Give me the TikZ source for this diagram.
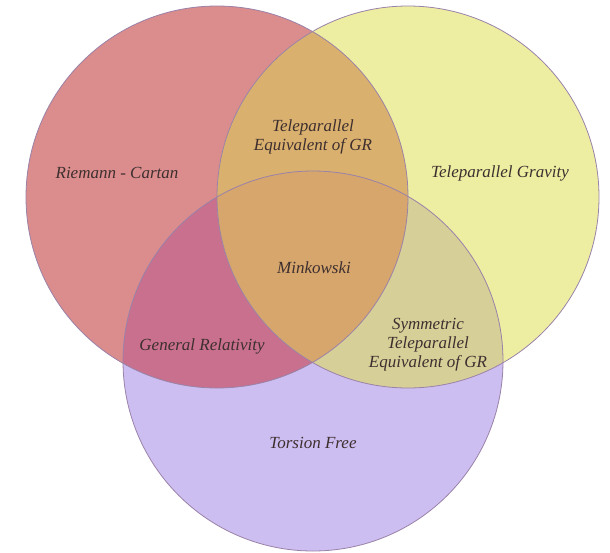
\documentclass[tikz,border=0pt]{standalone}
\usepackage{fontspec}
\setmainfont{Liberation Serif}
\definecolor{cR}{HTML}{DB8C8C}
\definecolor{cY}{HTML}{EEEEA2}
\definecolor{cP}{HTML}{CDBEF2}
\definecolor{cRY}{HTML}{D9B06E}
\definecolor{cRP}{HTML}{C8708E}
\definecolor{cYP}{HTML}{D7CF98}
\definecolor{cRYP}{HTML}{D6A66C}
\definecolor{edge}{HTML}{9A82A8}
\definecolor{txt}{HTML}{3E2F2F}
\tikzset{
  lbl/.style={font=\fontsize{17}{19}\selectfont\itshape, text=txt, align=center, inner sep=0pt},
  rim/.style={draw=edge, line width=0.8pt}
}
\begin{document}
\begin{tikzpicture}[x=1pt,y=-1pt]
\useasboundingbox (0,0) rectangle (610,552);
\def\red{(217,197) circle[radius=191]}
\def\yel{(408,197) circle[radius=191]}
\def\pur{(313,361) circle[radius=190]}
\fill[cR] \red;
\fill[cY] \yel;
\fill[cP] \pur;
\begin{scope}\clip \red; \fill[cRY] \yel; \end{scope}
\begin{scope}\clip \red; \fill[cRP] \pur; \end{scope}
\begin{scope}\clip \yel; \fill[cYP] \pur; \end{scope}
\begin{scope}\clip \red; \clip \yel; \fill[cRYP] \pur; \end{scope}
\draw[rim] \red;
\draw[rim] \yel;
\draw[rim] \pur;
\node[lbl] (rc) at (117,173) {Riemann - Cartan};
\node[lbl] (tegr) at (313,137) {Teleparallel\\Equivalent of GR};
\node[lbl] (tg) at (500,173) {Teleparallel Gravity};
\node[lbl] (mk) at (314,268) {Minkowski};
\node[lbl] (gr) at (202,346) {General Relativity};
\node[lbl] (stegr) at (428,345) {Symmetric\\Teleparallel\\Equivalent of GR};
\node[lbl] (tf) at (313,443) {Torsion Free};
\end{tikzpicture}
\end{document}
